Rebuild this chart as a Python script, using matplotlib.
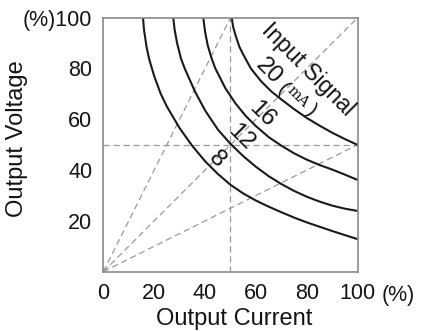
import matplotlib
matplotlib.use("Agg")
import matplotlib.pyplot as plt

# ---- data ----
curve_labels = ["8", "12", "16", "20"]

c8_x = [15.6, 16, 17, 18, 20, 22.5, 25, 30, 35, 40, 45, 50, 55, 60, 65, 70, 75, 80, 85, 90, 95, 100]
c8_y = [100, 95.2, 88.5, 83.8, 77, 70.2, 65, 56.5, 49.5, 43.5, 38.5, 34.2, 30.8, 28.0, 25.6, 23.4, 21.3, 19.4, 17.7, 16.0, 14.4, 12.8]

c12_x = [27.5, 28, 29, 30.5, 32, 36, 40, 45, 50, 55, 60, 65, 70, 75, 80, 85, 90, 95, 100]
c12_y = [100, 95.5, 90, 84, 80, 71, 63.5, 56, 50.3, 45.5, 41.3, 37.6, 34.5, 31.8, 29.5, 27.6, 26.0, 24.8, 23.9]

c16_x = [39.3, 40, 41, 42.5, 44, 48, 52, 56, 60, 65, 70, 75, 80, 85, 90, 95, 100]
c16_y = [100, 94.5, 89.3, 84.2, 80.1, 72.2, 66.2, 61.3, 57.3, 53.0, 49.6, 46.6, 44.1, 42.0, 40.2, 38.2, 36.1]

c20_x = [50.5, 51, 52, 53.5, 55, 58, 62, 66, 70, 75, 80, 85, 90, 95, 100]
c20_y = [100, 96.5, 93, 88.5, 85.5, 80, 75, 71, 67.8, 64, 60.5, 57.5, 54.7, 52.2, 49.9]

# dashed guide lines (start/end points)
guide_x0 = [0, 0, 0, 50, 0]
guide_y0 = [0, 0, 0, 0, 50]
guide_x1 = [50, 100, 100, 50, 100]
guide_y1 = [100, 100, 50, 100, 50]

x_ticks = [0, 20, 40, 60, 80, 100]
x_ticklabels = ["0", "20", "40", "60", "80", "100"]
y_ticks = [20, 40, 60, 80, 100]
y_ticklabels = ["20", "40", "60", "80", "(%)100"]

# ---- figure ----
plt.rcParams['font.family'] = ['Liberation Sans', 'DejaVu Sans']
fig = plt.figure(figsize=(4.21, 3.31), dpi=100)
ax = fig.add_axes([0.2454, 0.1792, 0.6042, 0.7674])
ax.set_xlim(0, 100)
ax.set_ylim(0, 100)

dash_col = "#9a9a9a"
for x0, y0, x1, y1 in zip(guide_x0, guide_y0, guide_x1, guide_y1):
    ax.plot([x0, x1], [y0, y1], color=dash_col, lw=0.9, ls=(0, (5, 3)), zorder=1)

curve_col = "#1a1a1a"
for xs, ys in [(c8_x, c8_y), (c12_x, c12_y), (c16_x, c16_y), (c20_x, c20_y)]:
    ax.plot(xs, ys, color=curve_col, lw=1.5, zorder=2, solid_capstyle='butt',
            solid_joinstyle='round')

for s in ax.spines.values():
    s.set_color("#8a8a8a")
    s.set_linewidth(1.2)

txt_col = "#141414"
ax.set_xticks(x_ticks)
ax.set_xticklabels(x_ticklabels)
ax.set_yticks(y_ticks)
ax.set_yticklabels(y_ticklabels)
ax.tick_params(length=0, labelsize=15.5, colors=txt_col)
ax.tick_params(axis='x', pad=8)
ax.tick_params(axis='y', pad=8)

ax.annotate("(%)", xy=(100, 0), xycoords='data', xytext=(17, -9.5),
            textcoords='offset points', ha='left', va='top', fontsize=15.5, color=txt_col,
            annotation_clip=False)

fig.text(234.5 / 421, 1 - 318.5 / 331, "Output Current", ha='center', va='center',
         fontsize=17, color=txt_col)
fig.text(17.5 / 421, 1 - 139 / 331, "Output Voltage", ha='center', va='center',
         fontsize=17, color=txt_col, rotation=90)

# curve annotations
ax.text(80.6, 79.4, "Input Signal", rotation=-45, ha='center', va='center', fontsize=16.5, color=txt_col,
        rotation_mode='anchor')
ax.text(65.1, 78.7, curve_labels[3], rotation=-45, ha='center', va='center', fontsize=17.5, color=txt_col,
        rotation_mode='anchor')
ax.text(70.8, 72.2, "(", rotation=-45, ha='center', va='center', fontsize=15, color=txt_col,
        rotation_mode='anchor')
ax.text(76.7, 68.9, "mA", rotation=-45, ha='center', va='center', fontsize=10.5, color=txt_col,
        rotation_mode='anchor', family='DejaVu Serif')
ax.text(81.6, 63.4, ")", rotation=-45, ha='center', va='center', fontsize=15, color=txt_col,
        rotation_mode='anchor')
ax.text(62.5, 62.0, curve_labels[2], rotation=-45, ha='center', va='center', fontsize=17.5, color=txt_col,
        rotation_mode='anchor')
ax.text(54.1, 53.1, curve_labels[1], rotation=-45, ha='center', va='center', fontsize=17.5, color=txt_col,
        rotation_mode='anchor')
ax.text(44.8, 44.3, curve_labels[0], rotation=-45, ha='center', va='center', fontsize=17.5, color=txt_col,
        rotation_mode='anchor')

fig.savefig("out.png", dpi=100)
